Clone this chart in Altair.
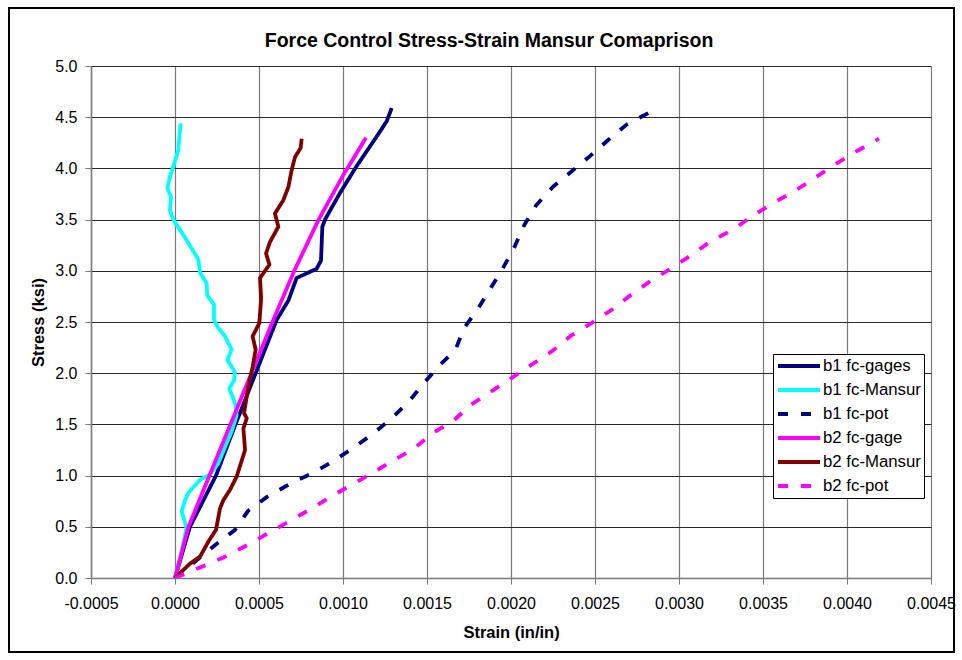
import altair as alt
import pandas as pd

chart_title = "Force Control Stress-Strain Mansur Comaprison"
x_title = "Strain (in/in)"
y_title = "Stress (ksi)"

series_names = ["b1 fc-gages", "b1 fc-Mansur", "b1 fc-pot", "b2 fc-gage", "b2 fc-Mansur", "b2 fc-pot"]
series_colors = ["#000080", "#00FFFF", "#000080", "#FF00FF", "#800000", "#FF00FF"]
series_dash = [[1, 0], [1, 0], [10, 13], [1, 0], [1, 0], [10, 13]]

x_ticks = [-0.0005, 0.0, 0.0005, 0.0010, 0.0015, 0.0020, 0.0025, 0.0030, 0.0035, 0.0040, 0.0045]
y_ticks = [0.0, 0.5, 1.0, 1.5, 2.0, 2.5, 3.0, 3.5, 4.0, 4.5, 5.0]

b1_gages_strain = [0.0, 0.000089, 0.000244, 0.00036, 0.00048, 0.000605, 0.000675, 0.000724, 0.000764,
                   0.000843, 0.000869, 0.000877, 0.000893, 0.000982, 0.00108, 0.0012, 0.00126, 0.00129]
b1_gages_stress = [0.0, 0.5, 1.0, 1.5, 2.0, 2.52, 2.71, 2.93, 2.96,
                   3.02, 3.10, 3.43, 3.50, 3.76, 4.02, 4.31, 4.46, 4.59]

b1_mansur_strain = [0.0, 0.00004, 0.000069, 0.00004, 0.00006, 0.000079, 0.000149, 0.000208, 0.000258,
                    0.000308, 0.000337, 0.000367, 0.000357, 0.000323, 0.000351, 0.000357, 0.000312,
                    0.000337, 0.000298, 0.000258, 0.000232, 0.000232, 0.000192, 0.000188, 0.000149,
                    0.000139, 0.000069, -0.00001, -0.00003, -0.000024, -0.000046, -0.000026, -0.00001,
                    0.00002, 0.000026, 0.000034]
b1_mansur_stress = [0.0, 0.27, 0.49, 0.65, 0.76, 0.83, 0.96, 1.01, 1.12,
                    1.32, 1.43, 1.59, 1.71, 1.85, 1.93, 2.01, 2.13,
                    2.23, 2.36, 2.44, 2.52, 2.67, 2.76, 2.88, 2.98,
                    3.11, 3.30, 3.50, 3.59, 3.72, 3.81, 3.94, 4.02,
                    4.18, 4.31, 4.44]

b1_pot_strain = [0.0, 0.000238, 0.000357, 0.000437, 0.000546, 0.000685, 0.000813, 0.000942, 0.00106,
                 0.00118, 0.00129, 0.00139, 0.00148, 0.00157, 0.00167, 0.00172, 0.0018, 0.001875,
                 0.00195, 0.00202, 0.00208, 0.00215, 0.00225, 0.00236, 0.00247, 0.00258, 0.00269, 0.00284]
b1_pot_stress = [0.0, 0.32, 0.47, 0.66, 0.79, 0.92, 1.02, 1.14, 1.27,
                 1.41, 1.56, 1.72, 1.90, 2.07, 2.23, 2.44, 2.62, 2.82,
                 3.02, 3.23, 3.45, 3.64, 3.82, 3.97, 4.12, 4.28, 4.43, 4.56]

b2_gage_strain = [0.0, 0.00008, 0.000205, 0.00033, 0.000455, 0.00058, 0.00071, 0.000855, 0.001, 0.001137]
b2_gage_stress = [0.0, 0.5, 1.0, 1.5, 2.0, 2.5, 3.0, 3.5, 3.93, 4.30]

b2_mansur_strain = [0.0, 0.000089, 0.000149, 0.000204, 0.000244, 0.000268, 0.000288, 0.000327, 0.000367,
                    0.000417, 0.000407, 0.000427, 0.000411, 0.000437, 0.000462, 0.00048, 0.000462,
                    0.000502, 0.000512, 0.000512, 0.000506, 0.000562, 0.000542, 0.000565, 0.000615,
                    0.000595, 0.000645, 0.000675, 0.000694, 0.000714, 0.000748, 0.000754]
b2_mansur_stress = [0.0, 0.14, 0.21, 0.37, 0.47, 0.68, 0.76, 0.86, 0.99,
                    1.25, 1.46, 1.56, 1.61, 1.87, 2.06, 2.23, 2.36,
                    2.49, 2.71, 2.75, 2.93, 3.06, 3.17, 3.28, 3.43,
                    3.56, 3.69, 3.82, 3.98, 4.11, 4.20, 4.29]

b2_pot_strain = [0.0, 0.00016, 0.000288, 0.000417, 0.000536, 0.000665, 0.000794, 0.000913, 0.00104,
                 0.00117, 0.00129, 0.00142, 0.00153, 0.00166, 0.00176, 0.00189, 0.002, 0.00212,
                 0.00224, 0.00236, 0.00248, 0.0026, 0.00271, 0.00283, 0.00295, 0.00308, 0.00319,
                 0.00332, 0.00344, 0.00357, 0.00369, 0.00381, 0.00393, 0.00406, 0.00419]
b2_pot_stress = [0.0, 0.11, 0.20, 0.31, 0.42, 0.54, 0.66, 0.78, 0.90,
                 1.02, 1.14, 1.26, 1.41, 1.54, 1.69, 1.83, 1.95, 2.08,
                 2.21, 2.37, 2.49, 2.62, 2.76, 2.90, 3.02, 3.16, 3.29,
                 3.40, 3.54, 3.67, 3.78, 3.91, 4.04, 4.17, 4.29]

all_strain = [b1_gages_strain, b1_mansur_strain, b1_pot_strain, b2_gage_strain, b2_mansur_strain, b2_pot_strain]
all_stress = [b1_gages_stress, b1_mansur_stress, b1_pot_stress, b2_gage_stress, b2_mansur_stress, b2_pot_stress]

rows = []
for name, xs, ys in zip(series_names, all_strain, all_stress):
    for i, (sx, sy) in enumerate(zip(xs, ys)):
        rows.append({"series": name, "strain": sx, "stress": sy, "idx": i})
df = pd.DataFrame(rows)

FONT = "Liberation Sans"

lines = alt.Chart(df).mark_line(strokeWidth=3.8, strokeJoin="round", clip=True).encode(
    x=alt.X("strain:Q",
            scale=alt.Scale(domain=[-0.0005, 0.0045], nice=False, zero=False),
            axis=alt.Axis(values=x_ticks, title=x_title,
                          labelExpr="datum.value < -0.00001 ? '-' + format(-datum.value, '.4f') : format(abs(datum.value), '.4f')",
                          grid=True, gridColor="#7a7a7a", gridWidth=1.2,
                          domainColor="#7a7a7a", domainWidth=1.5, tickColor="#7a7a7a", tickSize=6,
                          labelFont=FONT, labelFontSize=16, labelColor="black", labelPadding=11,
                          labelFlush=False, labelOverlap=False,
                          titleFont=FONT, titleFontSize=16.5, titleFontWeight="bold", titleColor="black",
                          titleX=420, titleY=54, titleBaseline="middle", titleAlign="center")),
    y=alt.Y("stress:Q",
            scale=alt.Scale(domain=[0, 5], nice=False),
            axis=alt.Axis(values=y_ticks, format=".1f", title=y_title,
                          grid=True, gridColor="#2a2a2a", gridWidth=1,
                          domainColor="#7a7a7a", domainWidth=1.5, tickColor="#7a7a7a", tickSize=6,
                          labelFont=FONT, labelFontSize=16, labelColor="black", labelPadding=8,
                          labelFlush=False, labelOverlap=False,
                          titleFont=FONT, titleFontSize=16.5, titleFontWeight="bold", titleColor="black",
                          titleX=-53, titleY=256, titleBaseline="middle", titleAlign="center", titleAngle=-90)),
    color=alt.Color("series:N",
                    scale=alt.Scale(domain=series_names, range=series_colors),
                    legend=alt.Legend(title=None, orient="none", legendX=682, legendY=288,
                                      symbolType="stroke", symbolSize=1764, symbolStrokeWidth=4,
                                      labelFont=FONT, labelFontSize=16.8, labelColor="black", labelOffset=1,
                                      strokeColor="black", fillColor="white", padding=3,
                                      clipHeight=18, rowPadding=6)),
    strokeDash=alt.StrokeDash("series:N",
                              scale=alt.Scale(domain=series_names, range=series_dash),
                              legend=alt.Legend(title=None)),
    order=alt.Order("idx:Q"),
)

frame = alt.Chart(pd.DataFrame({"a": [0]})).mark_rect(filled=False, stroke="black", strokeWidth=2).encode(
    x=alt.value(-82), x2=alt.value(863), y=alt.value(-58), y2=alt.value(586)
)

chart = alt.layer(frame, lines).properties(
    width=840, height=512,
    autosize=alt.AutoSizeParams(type="none"),
    padding={"left": 91, "top": 66, "right": 31, "bottom": 82},
    title=alt.TitleParams(text=chart_title, font=FONT, fontSize=19.5, fontWeight="bold", color="black",
                          anchor="middle", frame="group", offset=19, dx=-22, dy=63),
    background="white",
).configure_view(strokeWidth=0)

chart.save("out.html", embed_options={"renderer": "svg", "actions": False})
